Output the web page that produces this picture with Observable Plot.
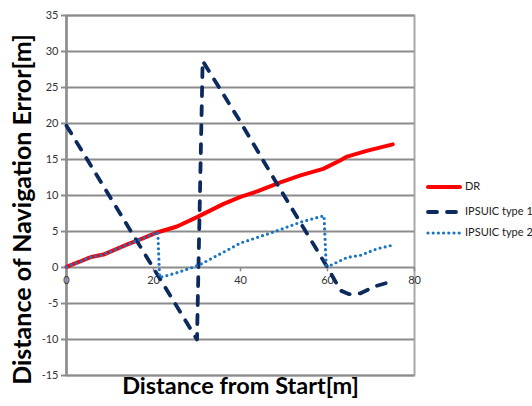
<!DOCTYPE html>
<html>
<head>
<meta charset="utf-8">
<script src="https://cdn.jsdelivr.net/npm/d3@7"></script>
<script src="https://cdn.jsdelivr.net/npm/@observablehq/plot@0.6"></script>
<style>
  html, body { margin: 0; padding: 0; background: #fff; }
  #wrap { position: relative; width: 532px; height: 406px; font-family: Lato, "Open Sans", sans-serif; }
  #legend { position: absolute; left: 425px; top: 178px; font-size: 11px; color: #222; }
  .item { position: absolute; left: 0; white-space: nowrap; height: 16px; }
  .item svg { position: absolute; left: 0; top: 0; }
  .item span { position: absolute; left: 40px; top: 1px; }
</style>
</head>
<body>
<div id="wrap"></div>
<script>
// ---- data ----
const xTicks = [0, 20, 40, 60, 80];
const yTicks = [-15, -10, -5, 0, 5, 10, 15, 20, 25, 30, 35];
const seriesNames = ["DR", "IPSUIC type 1", "IPSUIC type 2"];

const drX = [0, 3, 5, 6, 8.5, 10.5, 14, 17.4, 21, 25.4, 30, 33, 36, 40, 44, 49, 53.8, 59, 63, 64.5, 69, 75];
const drY = [0.1, 0.8, 1.3, 1.5, 1.8, 2.3, 3.2, 4.0, 4.9, 5.7, 7.0, 7.9, 8.8, 9.8, 10.6, 11.8, 12.8, 13.7, 14.9, 15.4, 16.2, 17.1];

const t1X = [0, 30, 31.3, 40, 48.8, 60, 63, 65, 67.5, 71, 75];
const t1Y = [19.7, -10, 28.7, 20.2, 11.2, 0, -3.2, -3.7, -3.6, -2.6, -1.9];

const t2X = [0, 3, 5, 6, 8.5, 10.5, 14, 17.4, 21, 21.4, 25, 28.5, 31, 36, 40, 44, 48.4, 53.8, 59.2, 59.7, 60.7, 64.5, 67.6, 71.4, 75];
const t2Y = [0.1, 0.8, 1.3, 1.5, 1.8, 2.3, 3.2, 4.0, 4.9, -1.4, -0.8, -0.1, 0.5, 2.1, 3.4, 4.2, 5.1, 6.3, 7.2, 0.3, 0.3, 1.4, 1.7, 2.6, 3.1];

const colors = ["#ff0000", "#0c2a5e", "#1a74c4"];

const toRows = (xs, ys) => xs.map((x, i) => ({x, y: ys[i]}));
const dr = toRows(drX, drY);
const t1 = toRows(t1X, t1Y);
const t2 = toRows(t2X, t2Y);

const gridColor = "#8c8c8c";

const chart = Plot.plot({
  width: 532,
  height: 406,
  marginLeft: 66,
  marginRight: 118,
  marginTop: 15,
  marginBottom: 31,
  style: { fontFamily: "Lato, 'Open Sans', sans-serif", fontSize: "11px", color: "#333", background: "#fff" },
  x: { domain: [0, 80], axis: null },
  y: { domain: [-15, 35] },
  marks: [
    Plot.frame({ stroke: "#a8a8a8", strokeWidth: 2 }),
    Plot.gridY(yTicks, { stroke: gridColor, strokeOpacity: 1, strokeWidth: 2 }),
    Plot.ruleX([0], { stroke: gridColor, strokeWidth: 2.5 }),
    Plot.axisY(yTicks, { tickSize: 5, tickPadding: 3, stroke: gridColor, strokeWidth: 2, label: null, fill: "#333", fontSize: 11, tickFormat: d => String(d) }),
    Plot.ruleX(xTicks.slice(1), { y1: 0, y2: -0.6, stroke: gridColor, strokeWidth: 1.5 }),
    Plot.text(xTicks, { x: d => d, y: 0, dy: 13, text: d => String(d), fill: "#333", fontSize: 11 }),
    Plot.line(dr, { x: "x", y: "y", stroke: colors[0], strokeWidth: 4, strokeLinejoin: "round", strokeLinecap: "round" }),
    Plot.line(t1, { x: "x", y: "y", stroke: colors[1], strokeWidth: 3.8, strokeDasharray: "9,10", strokeLinecap: "round", strokeLinejoin: "round" }),
    Plot.line(t2, { x: "x", y: "y", stroke: colors[2], strokeWidth: 3.2, strokeDasharray: "0,5.2", strokeLinecap: "round", strokeLinejoin: "round" }),
    Plot.text(["Distance of Navigation Error[m]"], { frameAnchor: "left", textAnchor: "middle", dx: -44, dy: 14, rotate: -90, text: d => d, fontSize: 25, fontWeight: "bold", fill: "#000" }),
    Plot.text(["Distance from Start[m]"], { frameAnchor: "bottom", dy: 18, text: d => d, fontSize: 23.5, fontWeight: "bold", fill: "#000" })
  ]
});

const wrap = document.getElementById("wrap");
wrap.appendChild(chart);

// legend
const legend = document.createElement("div");
legend.id = "legend";
const styles = [
  { w: 4, dash: null, cap: "round" },
  { w: 3.8, dash: "9,10", cap: "round" },
  { w: 3.2, dash: "0,5.2", cap: "round" }
];
const tops = [0, 25, 46];
seriesNames.forEach((name, i) => {
  const item = document.createElement("div");
  item.className = "item";
  item.style.top = (tops[i]) + "px";
  const s = styles[i];
  item.innerHTML =
    `<svg width="40" height="16"><line x1="3" x2="35" y1="9" y2="9" stroke="${colors[i]}" stroke-width="${s.w}" stroke-linecap="${s.cap}" ${s.dash ? `stroke-dasharray="${s.dash}"` : ""}/></svg><span>${name}</span>`;
  legend.appendChild(item);
});
wrap.appendChild(legend);
</script>
</body>
</html>
